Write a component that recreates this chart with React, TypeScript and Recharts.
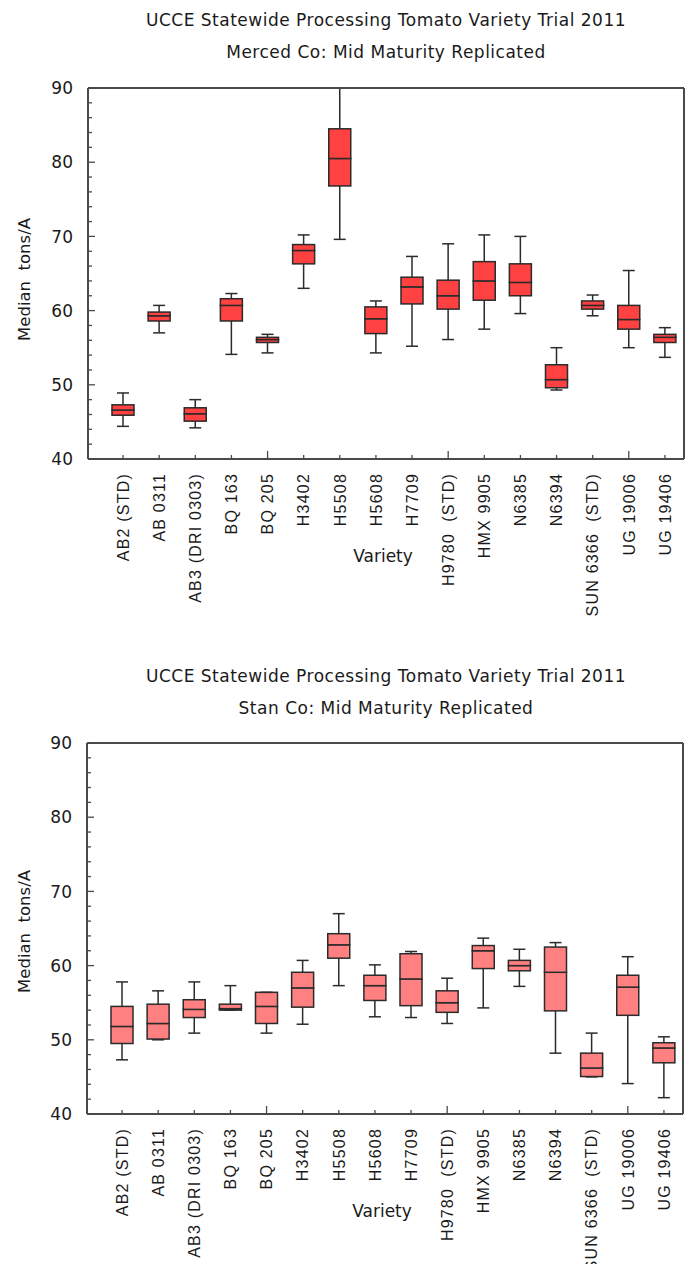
import React from 'react';
import { ComposedChart, Bar, XAxis, YAxis, Label } from 'recharts';

const categories = [
  'AB2 (STD)', 'AB 0311', 'AB3 (DRI 0303)', 'BQ 163', 'BQ 205', 'H3402', 'H5508', 'H5608',
  'H7709', 'H9780  (STD)', 'HMX 9905', 'N6385', 'N6394', 'SUN 6366  (STD)', 'UG 19006', 'UG 19406',
];

const yTicks = [40, 42, 44, 46, 48, 50, 52, 54, 56, 58, 60, 62, 64, 66, 68, 70, 72, 74, 76, 78, 80, 82, 84, 86, 88, 90];

// Merced Co
const mercedLow = [44.4, 57.0, 44.2, 54.1, 54.3, 63.0, 69.6, 54.3, 55.2, 56.1, 57.5, 59.6, 49.3, 59.3, 55.0, 53.7];
const mercedQ1 = [45.9, 58.6, 45.1, 58.6, 55.7, 66.3, 76.8, 56.9, 60.9, 60.2, 61.4, 62.0, 49.6, 60.2, 57.5, 55.7];
const mercedMed = [46.6, 59.3, 46.1, 60.7, 56.1, 68.1, 80.5, 58.9, 63.2, 62.0, 64.0, 63.8, 50.7, 60.7, 58.8, 56.4];
const mercedQ3 = [47.3, 59.8, 46.9, 61.6, 56.4, 68.9, 84.5, 60.5, 64.5, 64.1, 66.6, 66.3, 52.7, 61.3, 60.7, 56.8];
const mercedHigh = [48.9, 60.7, 48.0, 62.3, 56.8, 70.2, 91.0, 61.3, 67.3, 69.0, 70.2, 70.0, 55.0, 62.1, 65.4, 57.7];

// Stan Co
const stanLow = [47.3, 50.0, 50.9, 54.0, 50.9, 52.1, 57.3, 53.1, 53.0, 52.2, 54.3, 57.2, 48.2, 45.0, 44.1, 42.2];
const stanQ1 = [49.5, 50.1, 53.0, 54.0, 52.2, 54.4, 61.0, 55.3, 54.6, 53.7, 59.6, 59.3, 53.9, 45.05, 53.3, 46.9];
const stanMed = [51.8, 52.2, 54.1, 54.2, 54.5, 57.0, 62.8, 57.3, 58.2, 55.0, 62.0, 60.0, 59.1, 46.2, 57.1, 48.9];
const stanQ3 = [54.5, 54.8, 55.4, 54.8, 56.4, 59.1, 64.3, 58.7, 61.6, 56.6, 62.7, 60.7, 62.5, 48.2, 58.7, 49.6];
const stanHigh = [57.8, 56.6, 57.8, 57.3, 56.4, 60.7, 67.0, 60.1, 61.9, 58.3, 63.7, 62.2, 63.1, 50.9, 61.2, 50.4];

function buildRows(low: number[], q1: number[], med: number[], q3: number[], high: number[]) {
  return categories.map((name, i) => ({
    name,
    base: low[i],
    lw: q1[i] - low[i],
    b1: med[i] - q1[i],
    b2: q3[i] - med[i],
    uw: high[i] - q3[i],
  }));
}

const mercedRows = buildRows(mercedLow, mercedQ1, mercedMed, mercedQ3, mercedHigh);
const stanRows = buildRows(stanLow, stanQ1, stanMed, stanQ3, stanHigh);

const AXIS = '#4a4a4a';
const INK = '#2b2b2b';
const SANS = '"DejaVu Sans", sans-serif';
const TICKFONT = '"Liberation Sans", Arial, sans-serif';

const YTick = (props: any) => {
  const { x, y, payload } = props;
  const v = payload.value;
  const major = v % 10 === 0;
  return (
    <g>
      <line x1={x} x2={x + (major ? 7 : 4)} y1={y} y2={y} stroke={AXIS} strokeWidth={1.3} />
      {major && (
        <text x={x - 15} y={y} dy="0.36em" textAnchor="end" fontSize={17} fontFamily={SANS} fill="#1a1a1a">
          {v}
        </text>
      )}
    </g>
  );
};

const XTick = (props: any) => {
  const { x, y, payload } = props;
  const idx = categories.indexOf(payload.value);
  const major = (idx + 1) % 5 === 0;
  return (
    <g>
      <line x1={x} x2={x} y1={y} y2={y - (major ? 8 : 4)} stroke={AXIS} strokeWidth={1.3} />
      <text
        transform={`translate(${x},${y + 14}) rotate(-90)`}
        textAnchor="end"
        dy="0.36em"
        fontSize={16}
        letterSpacing={1.2}
        fontFamily={TICKFONT}
        fill="#1a1a1a"
        xmlSpace="preserve"
        style={{ whiteSpace: 'pre' }}
      >
        {payload.value}
      </text>
    </g>
  );
};

const LowWhisker = (props: any) => {
  const { x, y, width, height } = props;
  if (x == null || y == null) return null;
  const cx = x + width / 2;
  return (
    <g>
      <line x1={cx} x2={cx} y1={y} y2={y + height} stroke={INK} strokeWidth={1.5} />
      <line x1={cx - 6} x2={cx + 6} y1={y + height} y2={y + height} stroke={INK} strokeWidth={1.5} />
    </g>
  );
};

const HighWhisker = (props: any) => {
  const { x, y, width, height } = props;
  if (x == null || y == null) return null;
  const cx = x + width / 2;
  return (
    <g>
      <line x1={cx} x2={cx} y1={y} y2={y + height} stroke={INK} strokeWidth={1.5} />
      <line x1={cx - 6} x2={cx + 6} y1={y} y2={y} stroke={INK} strokeWidth={1.5} />
    </g>
  );
};

const makeBox = (fill: string) => (props: any) => {
  const { x, y, width, height } = props;
  if (x == null || y == null) return null;
  return <rect x={x} y={y} width={width} height={Math.max(height, 0)} fill={fill} stroke={INK} strokeWidth={1.5} />;
};

const Empty = () => null;

function BoxChart({ rows, fill, yAxisWidth, rightMargin, yLabelShift }: any) {
  const Box = makeBox(fill);
  return (
    <ComposedChart
      width={691}
      height={639}
      data={rows}
      margin={{ top: 87, right: rightMargin, bottom: 0, left: 0 }}
      barCategoryGap={0}
    >
      <XAxis
        dataKey="name"
        type="category"
        interval={0}
        padding={{ left: 17, right: 1 }}
        height={180}
        tickLine={false}
        tickSize={0}
        tickMargin={0}
        axisLine={{ stroke: AXIS, strokeWidth: 2 }}
        tick={<XTick />}
      >
        <Label
          content={(p: any) => {
            const vb = p.viewBox || {};
            return (
              <text x={vb.x + vb.width / 2 - 3} y={vb.y + 97} dy="0.36em" textAnchor="middle" fontSize={17} fontFamily={SANS} fill="#1a1a1a">
                Variety
              </text>
            );
          }}
        />
      </XAxis>
      <XAxis
        xAxisId="top"
        dataKey="name"
        type="category"
        orientation="top"
        height={1}
        tick={false}
        tickLine={false}
        axisLine={{ stroke: AXIS, strokeWidth: 2 }}
      />
      <YAxis
        type="number"
        domain={[40, 90]}
        allowDataOverflow
        ticks={yTicks}
        interval={0}
        width={yAxisWidth}
        tickLine={false}
        tickSize={0}
        tickMargin={0}
        axisLine={{ stroke: AXIS, strokeWidth: 2 }}
        tick={<YTick />}
      >
        <Label
          content={(p: any) => {
            const vb = p.viewBox || {};
            const cy = vb.y + vb.height / 2 + yLabelShift;
            return (
              <text
                transform={`translate(${vb.x + 24},${cy}) rotate(-90)`}
                textAnchor="middle"
                dy="0.36em"
                fontSize={16.5}
                fontFamily={SANS}
                fill="#1a1a1a"
                xmlSpace="preserve"
                style={{ whiteSpace: 'pre' }}
              >
                {'Median  tons/A'}
              </text>
            );
          }}
        />
      </YAxis>
      <YAxis
        yAxisId="right"
        type="number"
        orientation="right"
        domain={[40, 90]}
        width={1}
        tick={false}
        tickLine={false}
        axisLine={{ stroke: AXIS, strokeWidth: 2 }}
      />
      <Bar dataKey="base" stackId="s" barSize={22} shape={<Empty />} isAnimationActive={false} />
      <Bar dataKey="lw" stackId="s" barSize={22} shape={<LowWhisker />} isAnimationActive={false} />
      <Bar dataKey="b1" stackId="s" barSize={22} shape={<Box />} isAnimationActive={false} />
      <Bar dataKey="b2" stackId="s" barSize={22} shape={<Box />} isAnimationActive={false} />
      <Bar dataKey="uw" stackId="s" barSize={22} shape={<HighWhisker />} isAnimationActive={false} />
    </ComposedChart>
  );
}

const titleStyle: React.CSSProperties = {
  position: 'absolute',
  left: 88,
  width: 596,
  textAlign: 'center',
  fontFamily: SANS,
  fontSize: 17,
  letterSpacing: 0.5,
  lineHeight: '20px',
  color: '#1a1a1a',
  whiteSpace: 'nowrap',
};

export default function App() {
  return (
    <div style={{ position: 'absolute', left: 0, top: 0, width: 691, height: 1264, overflow: 'hidden', background: '#fff' }}>
      <div style={{ ...titleStyle, top: 10 }}>UCCE Statewide Processing Tomato Variety Trial 2011</div>
      <div style={{ ...titleStyle, top: 42 }}>Merced Co: Mid Maturity Replicated</div>
      <div style={{ position: 'absolute', left: 0, top: 0 }}>
        <BoxChart rows={mercedRows} fill="#ff4141" yAxisWidth={88} rightMargin={6} yLabelShift={6} />
      </div>
      <div style={{ ...titleStyle, top: 666 }}>UCCE Statewide Processing Tomato Variety Trial 2011</div>
      <div style={{ ...titleStyle, top: 698 }}>Stan Co: Mid Maturity Replicated</div>
      <div style={{ position: 'absolute', left: 0, top: 655 }}>
        <BoxChart rows={stanRows} fill="#ff8080" yAxisWidth={87} rightMargin={7} yLabelShift={3} />
      </div>
    </div>
  );
}
